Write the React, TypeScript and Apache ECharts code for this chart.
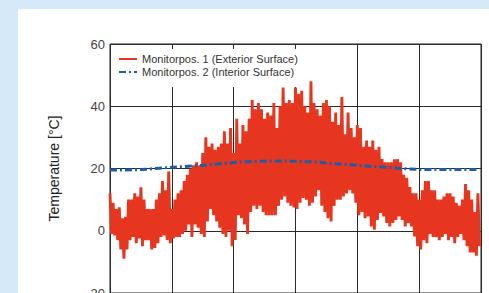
import React, { useEffect, useRef } from "react";
import * as echarts from "echarts";

// Exterior surface: daily maximum and minimum (°C), day 0..119
const exteriorMax = [
  12, 9, 7, 7.5, 4, 4.5, 10, 10, 12, 11, 14, 10, 7, 7, 7, 10, 12, 16, 13, 19, 7,
  10, 12, 13, 16, 18, 20, 21, 22, 21, 25, 30, 27, 28, 26, 27, 28, 32, 28, 33, 25,
  36, 28, 34, 32, 36, 42, 39, 41, 39, 36,
  38, 37, 41, 33, 40, 46, 41, 42, 41, 46,
  44, 45, 40, 38, 48, 41, 39, 37, 41, 42,
  40, 35, 38, 34, 43, 31, 38, 33, 30, 34,
  33, 27, 29, 27, 29, 26, 27, 23, 22, 22,
  22, 23, 23, 22, 18, 17, 14, 12, 12, 10,
  13, 16, 16, 13, 13, 10, 10, 11, 12, 12,
  11, 9, 8, 10, 15, 13, 10, 6, 12,
];
const exteriorMin = [
  -1, -1.5, -3, -6, -9, -6, -3, -2, -4, -2.5, -5, -3, -3, -6, -5.5, -4, -2, -1.5, -3, -4, -2.5,
  -2, -2, -1, 0, 2, -2, 2, 1, -1, -2, 3, 7, 5, 3, 1, -1, -2, 0, -5, -3,
  5, 4, 2, -1, 6, 8, 7, 8, 6, 5,
  5, 5, 5, 8, 10, 11, 9, 8, 7.5, 7,
  9, 10.5, 10, 8, 9, 11, 13, 8, 6, 4,
  3, 8, 10, 10, 11, 12, 13, 12, 9, 5,
  6, 4,
  4.6, 1.4, 0.3, 3.5, 5.7, 4.6, 2.5, 1.4, 2.5, 3.5,
  4.6, 3.5, 1.4, 2.5, 1.4, -1.8, -5, -6, -3, -4,
  -1, -2, -2, -3, -2, -1, -3, -2, -4, -2,
  -1, -3, -5, -7, -7, -8, -5,
];

// Interior surface (°C)
const interiorDays = [
  0, 4, 8, 12, 16, 20, 24, 28, 32, 36, 40, 44, 48, 52, 56, 60,
  64, 68, 72, 76, 80, 84, 88, 92, 96, 100, 104, 108, 112, 116, 119,
];
const interiorValues = [
  19.5, 19.5, 19.6, 19.8, 20.1, 20.4, 20.6, 20.9, 21.2, 21.6, 21.9, 22.2, 22.3, 22.4, 22.4, 22.3,
  22.2, 22.0, 21.6, 21.3, 21.0, 20.7, 20.5, 20.2, 19.9, 19.7, 19.7, 19.7, 19.7, 19.7, 19.7,
];

const seriesNames = [
  "Monitorpos. 1 (Exterior Surface)",
  "Monitorpos. 2 (Interior Surface)",
];

export default function App() {
  const ref = useRef<HTMLDivElement>(null);

  useEffect(() => {
    if (!ref.current) return;
    const chart = echarts.init(ref.current, null, { renderer: "svg" });

    const exterior: number[][] = [];
    exteriorMax.forEach((v, d) => {
      exterior.push([d, v]);
      exterior.push([d + 0.5, exteriorMin[d]]);
    });
    const interior = interiorDays.map((d, i) => [d, interiorValues[i]]);

    const font = 'Arial, "Liberation Sans", sans-serif';

    chart.setOption({
      animation: false,
      backgroundColor: "transparent",
      grid: {
        left: 110,
        right: 8,
        top: 44,
        bottom: 17,
        show: true,
        borderColor: "#222",
        borderWidth: 1,
        backgroundColor: "transparent",
      },
      legend: {
        data: seriesNames,
        orient: "vertical",
        left: 111,
        top: 49,
        padding: [4, 5, 9, 7],
        itemWidth: 18,
        itemHeight: 12,
        itemGap: 1,
        backgroundColor: "#ffffff",
        itemStyle: { opacity: 0 },
        textStyle: { fontSize: 11, color: "#333", fontFamily: font, lineHeight: 12 },
      },
      xAxis: {
        type: "value",
        position: "top",
        min: 0,
        max: 120,
        interval: 20,
        axisLine: { show: false },
        axisTick: { show: true, inside: true, length: 4, lineStyle: { color: "#222" } },
        axisLabel: { show: false },
        splitLine: { show: true, lineStyle: { color: "#2a2a2a", width: 1 } },
      },
      yAxis: {
        type: "value",
        min: -20,
        max: 60,
        interval: 20,
        name: "Temperature [°C]",
        nameLocation: "middle",
        nameGap: 49,
        nameTextStyle: { fontSize: 14, color: "#222", fontFamily: font },
        axisLine: { show: false },
        axisTick: { show: false },
        axisLabel: { fontSize: 13, color: "#444", margin: 5, fontFamily: font },
        splitLine: { show: true, lineStyle: { color: "#2a2a2a", width: 1 } },
      },
      series: [
        {
          name: seriesNames[0],
          type: "line",
          data: exterior,
          symbol: "none",
          showSymbol: false,
          lineStyle: { color: "#e6361f", width: 2.9 },
          itemStyle: { color: "#e6361f" },
          z: 2,
        },
        {
          name: seriesNames[1],
          type: "line",
          data: interior,
          symbol: "none",
          showSymbol: false,
          lineStyle: { color: "#1f5ca8", width: 3, type: [7, 3, 2, 3] },
          itemStyle: { color: "#1f5ca8" },
          z: 3,
        },
      ],
    });

    return () => chart.dispose();
  }, []);

  return (
    <div
      style={{
        position: "fixed",
        left: 0,
        top: 0,
        width: 489,
        height: 293,
        overflow: "hidden",
        background: "#d5e9f8",
      }}
    >
      <div
        style={{
          position: "absolute",
          left: 18,
          top: 9,
          right: 0,
          bottom: 0,
          background: "#ffffff",
        }}
      />
      <div
        ref={ref}
        style={{ position: "absolute", left: 0, top: 0, width: 489, height: 310 }}
      />
    </div>
  );
}
